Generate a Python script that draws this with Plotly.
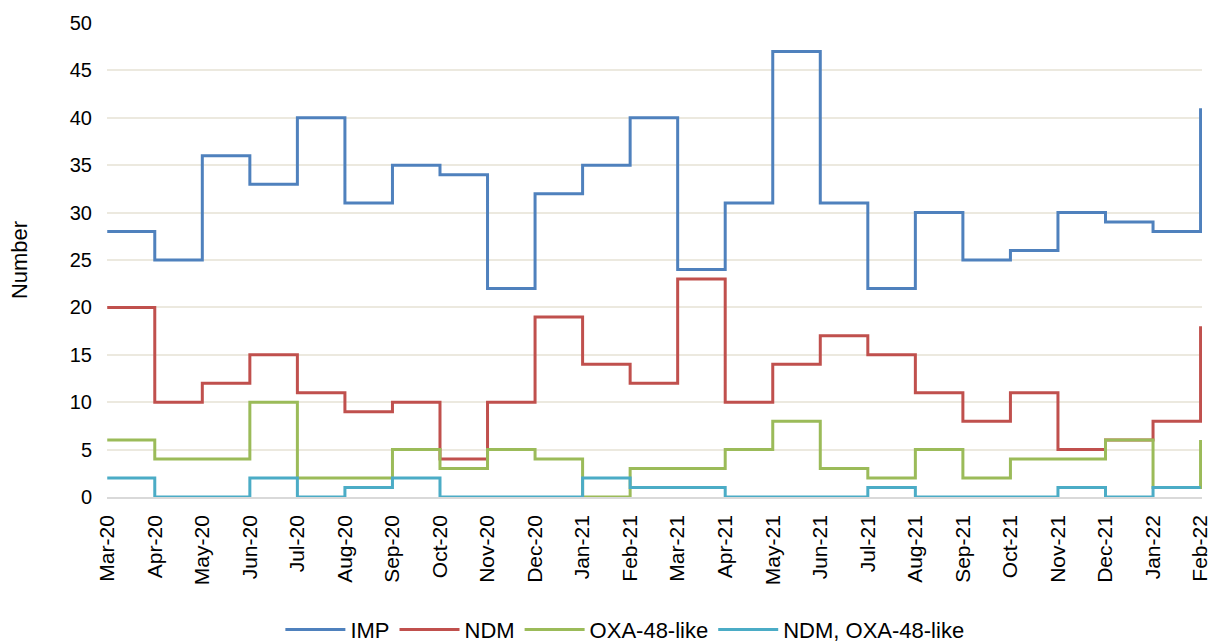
import plotly.graph_objects as go

# Monthly counts per carbapenemase type
months = ["Mar-20", "Apr-20", "May-20", "Jun-20", "Jul-20", "Aug-20", "Sep-20", "Oct-20",
          "Nov-20", "Dec-20", "Jan-21", "Feb-21", "Mar-21", "Apr-21", "May-21", "Jun-21",
          "Jul-21", "Aug-21", "Sep-21", "Oct-21", "Nov-21", "Dec-21", "Jan-22", "Feb-22"]

imp = [28, 25, 36, 33, 40, 31, 35, 34, 22, 32, 35, 40, 24, 31, 47, 31, 22, 30, 25, 26, 30, 29, 28, 41]
ndm = [20, 10, 12, 15, 11, 9, 10, 4, 10, 19, 14, 12, 23, 10, 14, 17, 15, 11, 8, 11, 5, 6, 8, 18]
oxa48 = [6, 4, 4, 10, 2, 2, 5, 3, 5, 4, 0, 3, 3, 5, 8, 3, 2, 5, 2, 4, 4, 6, 1, 6]
ndm_oxa48 = [2, 0, 0, 2, 0, 1, 2, 0, 0, 0, 2, 1, 1, 0, 0, 0, 1, 0, 0, 0, 1, 0, 1, 1]

series = [
    ("IMP", imp, "#4F81BD"),
    ("NDM", ndm, "#C0504D"),
    ("OXA-48-like", oxa48, "#9BBB59"),
    ("NDM, OXA-48-like", ndm_oxa48, "#4BACC6"),
]

FONT = "Liberation Sans, Arial, sans-serif"

fig = go.Figure()
for name, vals, color in series:
    fig.add_trace(go.Scatter(
        x=months, y=vals, name=name, mode="lines",
        line=dict(color=color, width=3, shape="hv"),
    ))

fig.update_layout(
    width=1211, height=642,
    margin=dict(l=107, r=9, t=23, b=145),
    paper_bgcolor="white", plot_bgcolor="white",
    font=dict(family=FONT, size=20, color="#000000"),
    showlegend=True,
    legend=dict(
        orientation="h", x=0.516, xanchor="center", xref="container",
        y=0.019, yanchor="middle", yref="container",
        font=dict(size=22), itemwidth=60, tracegroupgap=0,
    ),
)

fig.update_xaxes(
    type="category", range=[-0.005, 23.03], automargin=False,
    tickangle=-90, tickfont=dict(size=21),
    showgrid=False, showline=True, linecolor="#D9D9D9", linewidth=1.5,
    ticks="", ticklabelstandoff=8,
)
fig.update_yaxes(
    range=[0, 50], dtick=5, tickfont=dict(size=20), automargin=False,
    showgrid=True, gridcolor="#ECE9DF", gridwidth=1.5,
    zeroline=False, showline=False, ticks="", ticklabelstandoff=14,
    title=dict(text="Number", font=dict(size=22), standoff=36),
)

fig.write_html("out.html")
